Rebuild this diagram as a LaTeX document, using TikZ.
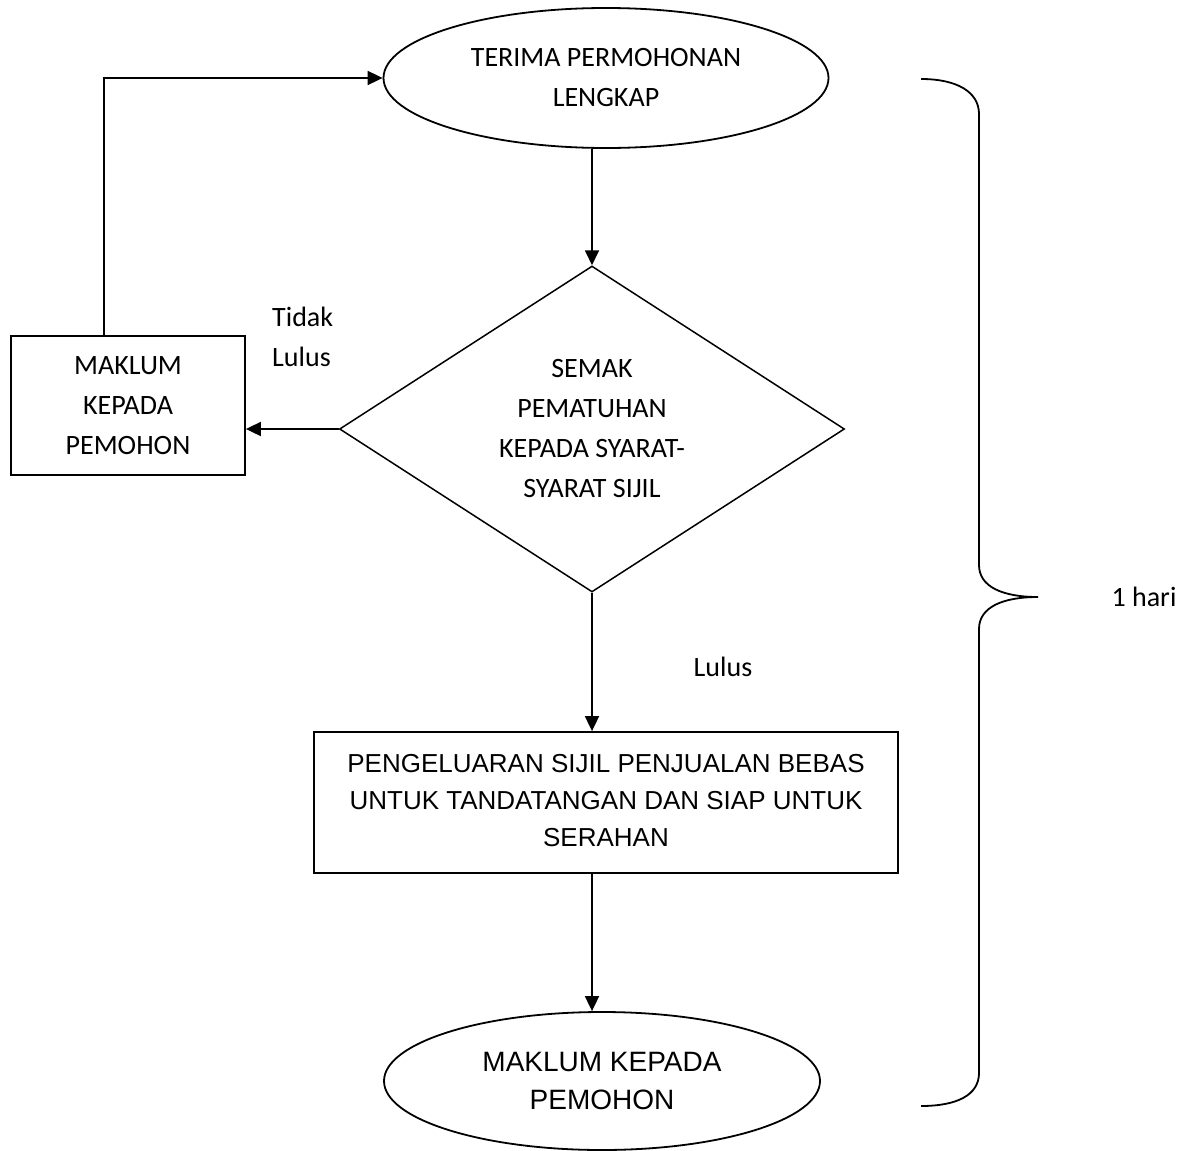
\documentclass[tikz,border=0pt]{standalone}
\usepackage{fontspec}
\setmainfont{Carlito}
\newfontfamily\arialfam{Liberation Sans}
\usetikzlibrary{shapes.geometric,arrows.meta}
\begin{document}
\begin{tikzpicture}[x=1pt,y=-1pt,
  every node/.style={inner sep=0pt, align=center},
  ln/.style={line width=1.8pt},
  arr/.style={ln,-{Triangle[length=15pt,width=14pt]}},
  cal/.style={font=\fontsize{28}{40}\selectfont},
  ari/.style={font=\arialfam\fontsize{26}{37}\selectfont},
  termnode/.style={draw,ln,ellipse},
  procnode/.style={draw,ln,rectangle},
  decnode/.style={draw,line width=1.5pt,diamond,aspect=1.55},
  lbl/.style={cal,align=left}]
\useasboundingbox (0,0) rectangle (1186,1151);

\node[termnode,cal,minimum width=445pt,minimum height=140pt] (start) at (606,78) {TERIMA PERMOHONAN\\LENGKAP};
\node[decnode,cal,minimum width=505pt,minimum height=326pt] (check) at (592,429) {SEMAK\\PEMATUHAN\\KEPADA SYARAT-\\SYARAT SIJIL};
\node[procnode,cal,minimum width=234pt,minimum height=139pt] (inform) at (128,405.5) {MAKLUM\\KEPADA\\PEMOHON};
\node[procnode,ari,minimum width=584pt,minimum height=141pt] (issue) at (606,802.5) {\raisebox{7pt}{\begin{tabular}{@{}c@{}}PENGELUARAN SIJIL PENJUALAN BEBAS\\UNTUK TANDATANGAN DAN SIAP UNTUK\\SERAHAN\end{tabular}}};
\node[termnode,font=\arialfam\fontsize{28}{38}\selectfont,minimum width=436pt,minimum height=138pt] (notify) at (602,1081) {MAKLUM KEPADA\\PEMOHON};

\node[lbl,anchor=west] (tidak) at (272,337) {Tidak\\Lulus};
\node[cal] (lulus) at (723,667) {Lulus};
\node[cal] (hari) at (1144,597) {1 hari};

\draw[arr] (check.north |- start.south) -- (check.north);
\draw[arr] (check.west) -- (check.west -| inform.east);
\draw[arr] ([xshift=-24pt]inform.north) |- (start.west);
\draw[arr] (check.south) -- (check.south |- issue.north);
\draw[arr] (check.south |- issue.south) -- (check.south |- notify.north);

\draw[ln] (921,79) .. controls (957,79) and (979,92) .. (979,114) -- (979,565)
  .. controls (979,587) and (1003,597) .. (1038,597)
  .. controls (1003,597) and (979,607) .. (979,629) -- (979,1073)
  .. controls (979,1095) and (957,1106) .. (921,1106);
\end{tikzpicture}
\end{document}
